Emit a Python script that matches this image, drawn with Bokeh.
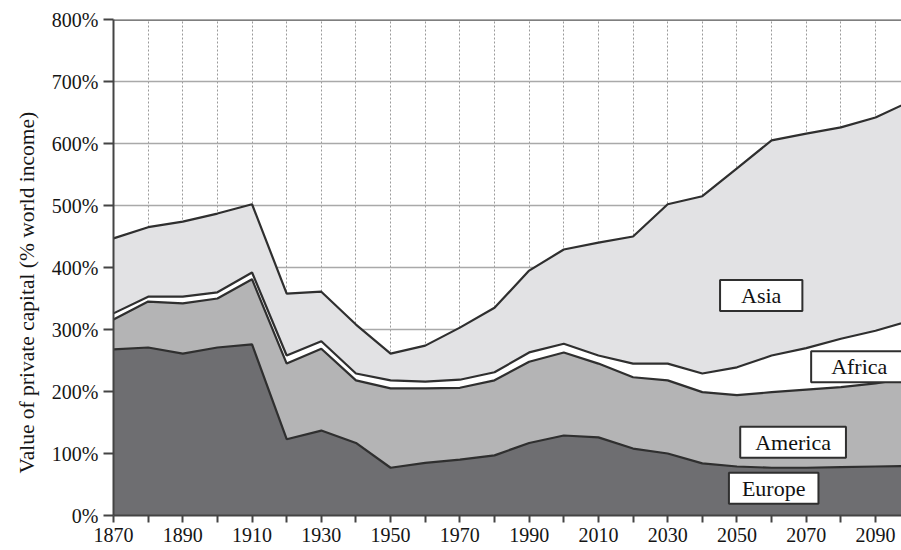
import numpy as np
from bokeh.plotting import figure
from bokeh.models import FixedTicker, PrintfTickFormatter, Label, Span, Title
from bokeh.embed import file_html
from bokeh.resources import INLINE

years = list(range(1870, 2101, 10))
europe = [268, 271, 261, 271, 276, 123, 137, 117, 77, 85, 90, 97, 117, 129, 126, 108, 100, 84, 79, 77, 77, 78, 79, 80]
america = [48, 74, 81, 79, 105, 122, 132, 101, 128, 120, 116, 121, 131, 134, 119, 115, 118, 115, 115, 122, 126, 129, 134, 142]
africa = [10, 8, 11, 10, 11, 13, 12, 11, 13, 11, 13, 13, 15, 14, 13, 22, 27, 30, 45, 59, 67, 78, 85, 92]
asia = [121, 112, 121, 127, 110, 100, 80, 79, 43, 58, 84, 104, 132, 152, 182, 205, 257, 286, 321, 347, 346, 341, 344, 354]

region_names = ["Europe", "America", "Africa", "Asia"]
region_colors = ["#6e6e71", "#b4b4b5", "#ffffff", "#e2e2e4"]
y_ticks = [0, 100, 200, 300, 400, 500, 600, 700, 800]
x_major = list(range(1870, 2091, 20))
x_minor = list(range(1880, 2101, 20))
y_title = "Value of private capital (% world income)"

FONT = "Liberation Serif"
DARK = "#2f2f2f"

p = figure(width=901, height=550, output_backend="svg", toolbar_location=None,
           x_range=(1870, 2097.5), y_range=(0, 800),
           min_border_left=113, min_border_right=0, min_border_top=19, min_border_bottom=35)
p.outline_line_color = None
p.background_fill_color = "white"

layers = [europe, america, africa, asia]
x = np.array(years)
base = np.zeros(len(years))
for vals, col in zip(layers, region_colors):
    top = base + np.array(vals)
    p.varea(x=x, y1=base, y2=top, fill_color=col)
    base = top

base = np.zeros(len(years))
for vals in layers:
    base = base + np.array(vals)
    p.line(x=x, y=base, line_color=DARK, line_width=2.2)

# axes
p.yaxis.ticker = FixedTicker(ticks=y_ticks)
p.yaxis.formatter = PrintfTickFormatter(format="%d%%")
p.xaxis.ticker = FixedTicker(ticks=x_major, minor_ticks=x_minor)

for ax in (p.xaxis[0], p.yaxis[0]):
    ax.axis_line_color = "#444444"
    ax.axis_line_width = 2
    ax.major_tick_line_color = "#444444"
    ax.major_tick_line_width = 2
    ax.minor_tick_line_color = "#444444"
    ax.minor_tick_line_width = 2
    ax.major_label_text_font = FONT
    ax.major_label_text_font_size = "20px"
    ax.major_label_text_color = "#151515"
    ax.major_label_text_font_style = "normal"

p.yaxis.major_tick_out = 10
p.yaxis.major_tick_in = 0
p.yaxis.minor_tick_out = 0
p.yaxis.minor_tick_in = 0
p.yaxis.major_label_standoff = 5

p.xaxis.major_tick_out = 7
p.xaxis.major_tick_in = 0
p.xaxis.minor_tick_out = 7
p.xaxis.minor_tick_in = 0
p.xaxis.major_label_standoff = 5

# y axis title as a side title (allows offset along the axis)
p.add_layout(Title(text=y_title, align="left", offset=42, standoff=19,
                   text_font=FONT, text_font_size="21.5px", text_color="#151515",
                   text_font_style="normal"), "left")

# grids
p.ygrid.grid_line_color = "#a9a9a9"
p.ygrid.grid_line_width = 1.6
p.xgrid.grid_line_color = "#9a9a9a"
p.xgrid.grid_line_width = 1
p.xgrid.grid_line_dash = "2 2"
p.xgrid.minor_grid_line_color = "#9a9a9a"
p.xgrid.minor_grid_line_width = 1
p.xgrid.minor_grid_line_dash = "2 2"

p.add_layout(Span(location=800, dimension="width", line_color="#555555", line_width=2.5))

# region labels
label_pos = {
    "Asia": (2057, 355, 21),
    "Africa": (2085.3, 240, 20),
    "America": (2066.2, 118, 15),
    "Europe": (2060.6, 44, 13),
}
for name in region_names:
    lx, ly, padh = label_pos[name]
    p.add_layout(Label(x=lx, y=ly, text=name, text_align="center", text_baseline="middle",
                       text_font=FONT, text_font_size="22px", text_color="#111111",
                       text_font_style="normal",
                       background_fill_color="white", border_line_color=DARK, border_line_width=2,
                       padding=dict(left=padh, right=padh, top=3, bottom=3)))

open("out.html", "w").write(file_html(p, INLINE))
